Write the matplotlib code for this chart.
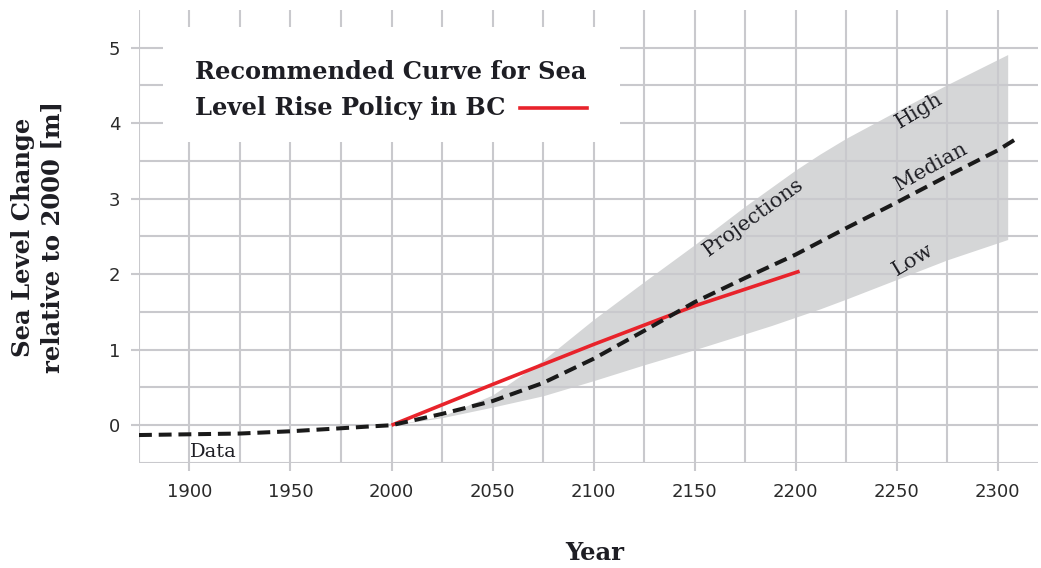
import numpy as np
import matplotlib.pyplot as plt
from matplotlib.patches import Rectangle

# historical data (dashed, before 2000)
data_years = [1875, 1900, 1925, 1950, 1975, 1990, 2000]
data_vals = [-0.13, -0.12, -0.11, -0.08, -0.04, -0.015, 0.0]

# median projection (dashed, after 2000)
median_years = [2025, 2050, 2075, 2100, 2125, 2150, 2175, 2200, 2225, 2250, 2275, 2300, 2309]
median_vals = [0.15, 0.32, 0.56, 0.88, 1.25, 1.63, 1.95, 2.26, 2.61, 2.95, 3.30, 3.64, 3.79]

# projection band
band_years = [2000, 2025, 2050, 2075, 2100, 2125, 2150, 2175, 2188, 2200, 2212, 2225, 2250, 2275, 2305]
band_low = [0.0, 0.10, 0.24, 0.39, 0.59, 0.80, 1.00, 1.21, 1.32, 1.43, 1.54, 1.67, 1.93, 2.19, 2.46]
band_high = [0.0, 0.12, 0.40, 0.86, 1.40, 1.90, 2.39, 2.90, 3.15, 3.38, 3.59, 3.80, 4.16, 4.51, 4.91]

# recommended policy curve
policy_years = [2000, 2050, 2100, 2150, 2202]
policy_vals = [0.0, 0.54, 1.07, 1.58, 2.04]

x_ticks = list(range(1900, 2301, 50))
y_ticks = [0, 1, 2, 3, 4, 5]

grid_col = '#c9c9cd'
txt_col = '#1e1e24'
serif = 'DejaVu Serif'

fig = plt.figure(figsize=(10.41, 5.68), dpi=100)
ax = fig.add_axes([0.1335, 0.1849, 0.8636, 0.7975])

ax.fill_between(band_years, band_low, band_high, color='#d5d6d7', lw=0, zorder=0.3)

line_years = data_years + median_years
line_vals = data_vals + median_vals
ax.plot(line_years, line_vals, color='#1a1a1a', lw=2.9, dashes=(3.2, 1.7), zorder=3)
ax.plot(policy_years, policy_vals, color='#e8232b', lw=2.6, solid_capstyle='butt', zorder=2.5)

ax.set_xlim(1875, 2320)
ax.set_ylim(-0.5, 5.5)
ax.set_xticks(x_ticks)
ax.set_xticks(np.arange(1875, 2301, 25), minor=True)
ax.set_yticks(y_ticks)
ax.set_yticks(np.arange(-0.5, 5.01, 0.5), minor=True)
ax.set_yticklabels([str(v) for v in y_ticks])
ax.grid(which='both', color=grid_col, lw=1.5)
ax.set_axisbelow(True)
for s in ax.spines.values():
    s.set_visible(False)
ax.tick_params(which='major', length=5.5, width=1.5, color=grid_col,
               labelsize=13, labelcolor='#2a2a2a', pad=8)
ax.tick_params(axis='x', which='major', pad=9)
ax.tick_params(which='minor', length=0)

# legend box
ax.add_patch(Rectangle((0.027, 0.709), 0.508, 0.253, transform=ax.transAxes,
                       facecolor='white', edgecolor='none', zorder=1))
ax.text(0.0623, 0.848, 'Recommended Curve for Sea', transform=ax.transAxes,
        family=serif, weight='bold', fontsize=17.4, color=txt_col, va='baseline', zorder=4)
ax.text(0.0623, 0.768, 'Level Rise Policy in BC', transform=ax.transAxes,
        family=serif, weight='bold', fontsize=17.4, color=txt_col, va='baseline', zorder=4)
ax.plot([0.424, 0.498], [0.784, 0.784], transform=ax.transAxes, color='#e8232b', lw=2.6, zorder=4)

# annotations
ax.text(2179, 2.75, 'Projections', family=serif, fontsize=15, color=txt_col,
        rotation=36, ha='center', va='center', rotation_mode='anchor')
ax.text(2261, 4.17, 'High', family=serif, fontsize=15, color=txt_col,
        rotation=31, ha='center', va='center', rotation_mode='anchor')
ax.text(2267, 3.42, 'Median', family=serif, fontsize=15, color=txt_col,
        rotation=29, ha='center', va='center', rotation_mode='anchor')
ax.text(2258, 2.19, 'Low', family=serif, fontsize=15, color=txt_col,
        rotation=31, ha='center', va='center', rotation_mode='anchor')
ax.text(1912, -0.35, 'Data', family=serif, fontsize=14, color=txt_col,
        ha='center', va='center')

fig.text(38 / 1041, 1 - 237 / 568, 'Sea Level Change\nrelative to 2000 [m]',
         family=serif, weight='bold', fontsize=17.5, color=txt_col,
         rotation=90, ha='center', va='center', linespacing=1.3)
fig.text(595 / 1041, 1 - 553 / 568, 'Year', family=serif, weight='bold',
         fontsize=17.5, color=txt_col, ha='center', va='center')

fig.savefig('out.png', dpi=100)
